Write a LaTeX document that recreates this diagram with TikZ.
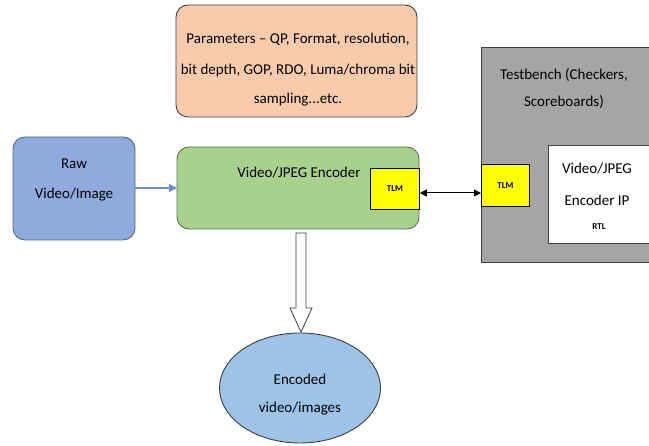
\documentclass[tikz,border=0pt]{standalone}
\usepackage{fontspec}
\setmainfont{Carlito}
\usetikzlibrary{arrows.meta,shapes.geometric}
\definecolor{peach}{HTML}{F8CBAD}
\definecolor{rawblue}{HTML}{8FAADC}
\definecolor{encgreen}{HTML}{A9D18E}
\definecolor{tbgray}{HTML}{A5A5A5}
\definecolor{outblue}{HTML}{9DC3E6}
\definecolor{tlmyellow}{HTML}{FFFF00}
\definecolor{edge}{HTML}{404040}
\begin{document}
\begin{tikzpicture}[x=1pt,y=-1pt,
  box/.style={draw=edge,line width=0.9pt,rounded corners=12pt},
  tlmbox/.style={draw=black,line width=0.8pt,fill=tlmyellow,font=\fontsize{9}{10}\selectfont\bfseries},
  lbl/.style={font=\fontsize{15}{18}\selectfont,align=center,inner sep=0pt}]
\clip (0,0) rectangle (649,446);
\fill[white] (0,0) rectangle (649,446);

% parameter box
\draw[box,fill=peach] (176,5) rectangle (417,117);
\node[lbl] (params) at (298,70) {Parameters -- QP, Format, resolution,\\[13pt]bit depth, GOP, RDO, Luma/chroma bit\\[11pt]sampling...etc.};

% testbench
\draw[draw=edge,line width=0.9pt,fill=tbgray] (481,47) rectangle (660,262);
\node[lbl] (tb) at (564,89) {Testbench (Checkers,\\[9pt]Scoreboards)};
\draw[draw=edge,line width=0.9pt,fill=white] (548,145) rectangle (660,243);
\node[lbl] (dut) at (597,184) {Video/JPEG\\[14pt]Encoder IP};
\node[font=\fontsize{9}{10}\selectfont\bfseries,inner sep=0pt] (rtl) at (599,227) {RTL};
\node[tlmbox,minimum width=48pt,minimum height=42pt,anchor=north west,inner sep=0pt] (tlmR) at (481,164) {TLM};

% raw input
\draw[box,draw=rawblue!60!black,fill=rawblue] (13,137) rectangle (135,240);
\node[lbl] (raw) at (74,180) {Raw\\[12pt]Video/Image};
\coordinate (rawE) at (135,188);

% encoder
\draw[box,draw=encgreen!55!black,fill=encgreen] (177,147) rectangle (419,229);
\node[lbl] (enc) at (299,173) {Video/JPEG Encoder};
\coordinate (encW) at (177,188);
\node[tlmbox,minimum width=49pt,minimum height=41pt,anchor=north west,inner sep=0pt] (tlmL) at (370,168) {TLM};

% connectors
\draw[-{Triangle[length=8pt,width=8pt]},draw=rawblue!80!blue,line width=1.2pt] (rawE) -- (encW);
\draw[{Triangle[length=7pt,width=7pt]}-{Triangle[length=7pt,width=7pt]},line width=1pt] (tlmL.east |- 0,193) -- (tlmR.west |- 0,193);

% output
\node[ellipse,draw=edge,line width=0.9pt,fill=outblue,minimum width=161pt,minimum height=110pt] (out) at (300,388) {};
\node[lbl] (outtxt) at (300,395) {Encoded\\[10pt]video/images};

% hollow block arrow from the encoder down to the output
\coordinate (dtop) at (301,233);
\coordinate (dtip) at (301,332);
\draw[draw=edge,line width=0.8pt,fill=white]
  ([xshift=-5pt]dtop) -- ([xshift=5pt]dtop) -- ([xshift=5pt,yshift=24pt]dtip)
  -- ([xshift=11pt,yshift=24pt]dtip) -- (dtip) -- ([xshift=-11pt,yshift=24pt]dtip)
  -- ([xshift=-5pt,yshift=24pt]dtip) -- cycle;
\end{tikzpicture}
\end{document}
